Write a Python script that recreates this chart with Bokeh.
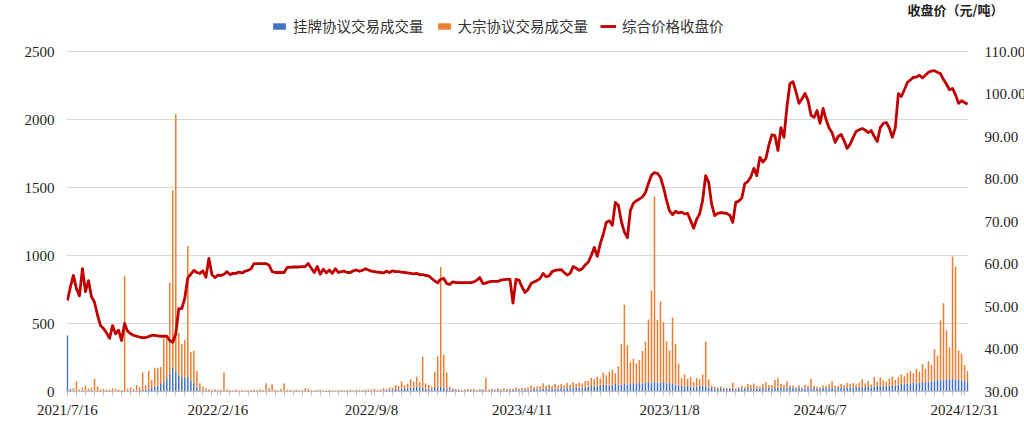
from bokeh.plotting import figure
from bokeh.models import (Range1d, LinearAxis, FixedTicker, Legend, LegendItem, Title,
                          ColumnDataSource, NumeralTickFormatter)
from bokeh.embed import file_html
from bokeh.resources import INLINE

# 挂牌协议交易成交量 (万吨)
listed = [
    412, 12, 8, 10, 6, 8, 5, 6, 10, 8,
    6, 5, 4, 5, 4, 3, 5, 4, 6, 8,
    6, 5, 8, 6, 10, 12, 15, 20, 25, 35,
    45, 55, 70, 95, 130, 175, 150, 120, 110, 100,
    110, 80, 60, 30, 15, 10, 8, 6, 5, 5,
    5, 4, 5, 4, 4, 3, 4, 3, 4, 3,
    4, 3, 4, 5, 4, 3, 5, 4, 3, 4,
    4, 3, 4, 3, 4, 3, 3, 4, 3, 4,
    3, 4, 3, 4, 5, 4, 3, 4, 5, 4,
    4, 5, 4, 6, 5, 4, 5, 6, 5, 6,
    5, 6, 8, 7, 6, 8, 10, 12, 15, 18,
    15, 20, 25, 22, 30, 28, 35, 30, 25, 20,
    18, 15, 25, 30, 35, 30, 20, 15, 12, 10,
    10, 8, 9, 8, 10, 9, 8, 10, 12, 10,
    8, 10, 9, 12, 10, 8, 9, 10, 12, 10,
    12, 10, 14, 12, 15, 18, 14, 16, 20, 18,
    20, 18, 22, 20, 25, 22, 28, 24, 30, 26,
    30, 28, 32, 35, 40, 45, 38, 42, 48, 50,
    45, 50, 55, 48, 52, 58, 50, 55, 60, 58,
    62, 58, 65, 70, 60, 72, 66, 64, 70, 60,
    62, 55, 50, 45, 40, 35, 42, 38, 30, 35,
    40, 45, 38, 30, 25, 22, 20, 18, 20, 16,
    18, 20, 15, 18, 22, 20, 25, 22, 18, 20,
    22, 25, 20, 28, 22, 25, 30, 26, 22, 28,
    25, 30, 22, 26, 20, 24, 28, 22, 25, 20,
    22, 25, 28, 24, 26, 22, 25, 30, 28, 32,
    30, 28, 32, 35, 30, 34, 38, 32, 36, 40,
    38, 42, 40, 45, 48, 44, 50, 55, 52, 58,
    60, 62, 58, 65, 70, 68, 72, 75, 80, 85,
    82, 88, 90, 85, 92, 88, 84, 80, 75, 70,
]

# 大宗协议交易成交量 (万吨)
block = [
    0, 10, 15, 65, 8, 20, 40, 12, 18, 85,
    30, 12, 15, 8, 10, 20, 15, 10, 5, 840,
    15, 25, 10, 40, 20, 128, 30, 130, 60, 140,
    130, 125, 320, 305, 670, 1305, 1890, 310, 240, 280,
    960, 210, 240, 120, 45, 25, 15, 10, 8, 12,
    10, 8, 135, 12, 8, 6, 10, 5, 8, 6,
    5, 8, 10, 6, 12, 8, 55, 20, 50, 10,
    6, 15, 55, 10, 8, 5, 10, 6, 8, 20,
    18, 6, 5, 8, 10, 5, 6, 8, 5, 6,
    5, 8, 6, 5, 10, 6, 8, 5, 6, 8,
    10, 8, 12, 6, 10, 15, 8, 20, 12, 30,
    25, 55, 20, 35, 60, 45, 75, 40, 230, 40,
    30, 20, 120, 230, 880, 240, 120, 20, 10, 8,
    6, 5, 8, 10, 6, 12, 5, 8, 6, 90,
    8, 10, 6, 12, 8, 15, 10, 12, 8, 20,
    10, 15, 12, 20, 30, 15, 25, 20, 40, 25,
    30, 20, 35, 25, 30, 22, 35, 28, 40, 30,
    35, 30, 45, 40, 60, 45, 70, 55, 90, 70,
    100, 110, 80, 140, 300, 580, 290, 160, 180, 150,
    170, 240, 300, 460, 680, 1360, 460, 600, 440, 310,
    240, 490, 300, 160, 60, 90, 50, 70, 40, 65,
    50, 80, 330, 60, 20, 15, 10, 20, 8, 12,
    10, 45, 8, 12, 20, 15, 30, 25, 40, 20,
    15, 30, 50, 20, 25, 60, 70, 30, 25, 45,
    20, 15, 10, 20, 12, 25, 15, 70, 20, 15,
    10, 20, 15, 30, 50, 20, 15, 25, 20, 30,
    25, 35, 20, 30, 60, 25, 40, 20, 70, 30,
    65, 40, 30, 50, 60, 40, 55, 70, 60, 80,
    90, 70, 110, 80, 130, 100, 150, 120, 230, 180,
    440, 560, 360, 240, 900, 830, 220, 200, 120, 80,
]

# 综合价格收盘价 (元/吨)
price = [
    51.4, 54.6, 57.3, 54.2, 52.5, 58.9, 53.5, 56.1, 52.3, 51.0,
    48.0, 45.5, 44.8, 43.8, 42.5, 45.5, 43.6, 44.4, 42.0, 46.0,
    44.2, 43.6, 43.2, 43.0, 42.8, 42.7, 42.7, 42.9, 43.2, 43.2,
    43.1, 43.0, 43.0, 43.0, 42.0, 41.6, 43.6, 49.5, 49.5, 52.0,
    56.8, 57.6, 58.5, 58.0, 57.8, 58.4, 56.9, 61.3, 57.5, 56.8,
    57.4, 57.3, 57.6, 58.2, 57.5, 57.8, 57.8, 58.1, 57.9, 58.3,
    58.5, 58.9, 60.1, 60.1, 60.1, 60.1, 60.1, 59.7, 58.2, 58.0,
    58.0, 58.0, 58.0, 59.2, 59.2, 59.3, 59.3, 59.3, 59.4, 59.4,
    60.1, 59.0, 58.0, 59.4, 57.6, 58.8, 57.9, 58.6, 57.8, 58.9,
    58.0, 58.2, 58.3, 58.0, 58.0, 58.4, 58.6, 58.3, 58.5, 58.9,
    58.6, 58.3, 58.2, 58.1, 58.0, 57.9, 58.3, 58.0, 58.4, 58.2,
    58.2, 58.1, 58.0, 57.9, 57.8, 57.7, 57.8, 57.5, 57.5, 57.3,
    57.2, 56.6, 56.0, 55.6, 56.4, 56.6, 55.4, 55.2, 55.8, 55.6,
    55.6, 55.6, 55.6, 55.6, 55.6, 55.8, 56.2, 56.8, 55.4, 55.5,
    55.8, 55.9, 55.9, 55.9, 56.2, 56.3, 56.4, 56.4, 50.8, 56.4,
    56.2, 54.6, 53.3, 54.0, 55.4, 55.8, 56.1, 56.6, 57.8, 57.0,
    57.2, 58.2, 58.5, 58.6, 58.7, 58.0, 57.4, 57.8, 59.4, 59.0,
    58.5, 58.9, 59.8, 60.4, 62.0, 63.9, 61.8, 64.8, 67.0, 69.8,
    70.2, 69.1, 74.5, 73.8, 70.0, 67.5, 66.2, 72.6, 74.3, 74.9,
    75.3, 75.8, 76.8, 79.0, 80.9, 81.5, 81.3, 80.4, 78.0, 75.0,
    72.5, 71.6, 72.4, 72.0, 72.2, 71.8, 71.9, 70.2, 68.4, 70.5,
    71.8, 75.0, 80.8, 79.2, 74.0, 71.4, 71.9, 72.1, 72.0, 71.9,
    71.5, 69.8, 74.5, 74.8, 75.5, 78.9, 79.4, 80.5, 82.5, 80.8,
    85.1, 84.0, 84.8, 88.0, 90.4, 90.2, 86.7, 92.1, 89.8, 97.0,
    102.5, 102.9, 100.5, 97.8, 98.9, 100.1, 98.5, 95.0, 94.5, 96.1,
    93.1, 96.6, 94.0, 92.0, 90.9, 88.6, 90.0, 90.5, 89.0, 87.2,
    88.2, 89.8, 91.2, 91.6, 91.9, 91.5, 90.9, 91.4, 90.0, 88.8,
    92.1, 93.1, 93.3, 92.0, 89.8, 92.1, 100.1, 99.4, 101.0, 102.7,
    103.3, 103.9, 104.0, 104.4, 103.8, 104.4, 105.1, 105.4, 105.5, 105.1,
    104.8, 103.4, 102.3, 101.0, 101.3, 99.8, 97.8, 98.4, 98.0, 97.6,
]

tick_idx = [0, 50, 101, 151, 200, 250, 298]
tick_labels = ["2021/7/16", "2022/2/16", "2022/9/8", "2023/4/11",
               "2023/11/8", "2024/6/7", "2024/12/31"]
vol_ticks = [0, 500, 1000, 1500, 2000, 2500]
price_ticks = [30, 40, 50, 60, 70, 80, 90, 100, 110]

series_names = ["挂牌协议交易成交量", "大宗协议交易成交量", "综合价格收盘价"]
right_title = "收盘价（元/吨）"

n = len(price)
src = ColumnDataSource(dict(x=list(range(n)), listed=listed, block=block, price=price))

SERIF = "Liberation Serif"
CJK = "Noto Sans CJK SC"

# frame: plotting area (340 px for 0..2500) plus headroom for the legend
FW, PLOT_H, HEAD, TOP = 902, 340, 39, 12
FH = PLOT_H + HEAD
vol_top = vol_ticks[-1] * FH / PLOT_H
price_top = price_ticks[0] + (price_ticks[-1] - price_ticks[0]) * FH / PLOT_H

p = figure(frame_width=FW, frame_height=FH, output_backend="svg", toolbar_location=None,
           x_range=Range1d(-0.3, n - 0.7), y_range=Range1d(0, vol_top),
           min_border_left=66, min_border_right=56, min_border_top=TOP,
           min_border_bottom=31)
p.outline_line_color = None
p.background_fill_color = "white"

p.extra_y_ranges = {"price": Range1d(price_ticks[0], price_top)}

bars = p.vbar_stack(["listed", "block"], x="x", width=0.5, source=src,
                    color=["#4472C4", "#ED7D31"], line_width=0)
line = p.line("x", "price", source=src, y_range_name="price",
              line_color="#C00000", line_width=2.8, line_join="round")

# left axis
p.yaxis.ticker = FixedTicker(ticks=vol_ticks)
p.yaxis.axis_line_color = None
p.yaxis.major_tick_line_color = None
p.yaxis.minor_tick_line_color = None
p.yaxis.major_label_standoff = 6
p.yaxis.major_label_text_font = SERIF
p.yaxis.major_label_text_font_size = "15px"
p.yaxis.major_label_text_color = "#222222"
p.ygrid.ticker = FixedTicker(ticks=vol_ticks)
p.ygrid.grid_line_color = "#D9D9D9"
p.xgrid.grid_line_color = None

# right axis
ra = LinearAxis(y_range_name="price", ticker=FixedTicker(ticks=price_ticks),
                formatter=NumeralTickFormatter(format="0.00"))
ra.axis_line_color = None
ra.major_tick_line_color = None
ra.minor_tick_line_color = None
ra.major_label_standoff = 10
ra.major_label_text_font = SERIF
ra.major_label_text_font_size = "15px"
ra.major_label_text_color = "#222222"
p.add_layout(ra, "right")

# x axis
p.xaxis.ticker = FixedTicker(ticks=tick_idx, minor_ticks=list(range(0, n, 3)))
p.xaxis.major_label_overrides = {t: l for t, l in zip(tick_idx, tick_labels)}
p.xaxis.axis_line_color = "#BFBFBF"
p.xaxis.major_tick_line_color = "#BFBFBF"
p.xaxis.minor_tick_line_color = "#BFBFBF"
p.xaxis.major_tick_out = 4
p.xaxis.major_tick_in = 0
p.xaxis.minor_tick_out = 4
p.xaxis.minor_tick_in = 0
p.xaxis.major_label_standoff = 6
p.xaxis.major_label_text_font = SERIF
p.xaxis.major_label_text_font_size = "15px"
p.xaxis.major_label_text_color = "#222222"

legend = Legend(items=[LegendItem(label=series_names[0], renderers=[bars[0]]),
                       LegendItem(label=series_names[1], renderers=[bars[1]]),
                       LegendItem(label=series_names[2], renderers=[line])],
                orientation="horizontal", location=(205, FH - 24),
                label_text_font=CJK, label_text_font_size="14.5px",
                label_text_color="#333333",
                glyph_width=16, glyph_height=8, label_standoff=6, spacing=12,
                padding=0, margin=0, border_line_color=None,
                background_fill_alpha=0)
p.add_layout(legend, "center")

p.add_layout(Title(text=right_title, align="right", offset=-35, standoff=-13,
                   text_font=CJK, text_font_size="13px", text_font_style="bold",
                   text_color="#222222"), "above")

open("out.html", "w").write(file_html(p, INLINE))
